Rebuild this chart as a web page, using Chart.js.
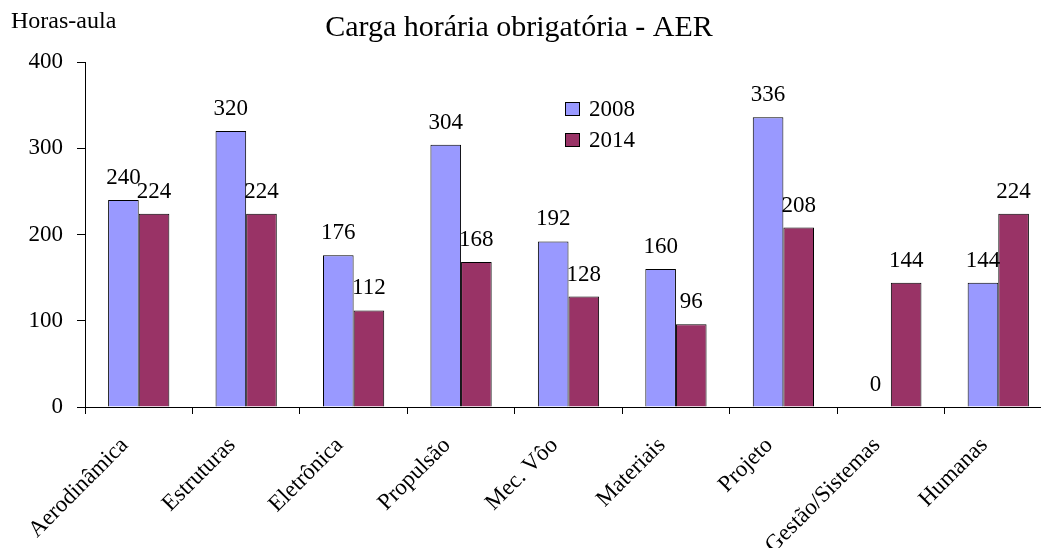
<!DOCTYPE html>
<html>
<head>
<meta charset="utf-8">
<script src="https://cdn.jsdelivr.net/npm/chart.js@4"></script>
<style>
  body { margin: 0; overflow: hidden; background: #fff; }
  #wrap { width: 1060px; height: 548px; }
</style>
</head>
<body>
<div id="wrap"><canvas id="chart" width="1060" height="548"></canvas></div>
<script>
// データ
const categories = ['Aerodinâmica', 'Estruturas', 'Eletrônica', 'Propulsão', 'Mec. Vôo', 'Materiais', 'Projeto', 'Gestão/Sistemas', 'Humanas'];
const series2008 = [240, 320, 176, 304, 192, 160, 336, 0, 144];
const series2014 = [224, 224, 112, 168, 128, 96, 208, 144, 224];
const seriesNames = ['2008', '2014'];
const yTicks = [0, 100, 200, 300, 400];
const chartTitle = 'Carga horária obrigatória - AER';
const yTitle = 'Horas-aula';

const FONT = '"Liberation Serif", "Times New Roman", serif';
const FSIZE = 23;

// 値ラベル・タイトル・凡例を描くプラグイン
const extrasPlugin = {
    id: 'extras',
    afterDatasetsDraw(chart) {
        const ctx = chart.ctx;
        ctx.save();
        ctx.font = FSIZE + 'px ' + FONT;
        ctx.fillStyle = '#000';
        ctx.textAlign = 'center';
        ctx.textBaseline = 'alphabetic';
        chart.data.datasets.forEach((ds, i) => {
            chart.getDatasetMeta(i).data.forEach((bar, j) => {
                ctx.fillText(String(ds.data[j]), bar.x, bar.y - 16);
            });
        });

        // タイトル
        ctx.font = '30px ' + FONT;
        ctx.fillText(chartTitle, 519, 36);
        ctx.textAlign = 'left';
        ctx.font = '24px ' + FONT;
        ctx.fillText(yTitle, 11, 28);

        // 凡例
        ctx.font = FSIZE + 'px ' + FONT;
        chart.data.datasets.forEach((ds, i) => {
            const y = 109 + i * 31;
            ctx.fillStyle = ds.backgroundColor;
            ctx.fillRect(565.5, y - 6.5, 14, 13);
            ctx.strokeStyle = '#000';
            ctx.lineWidth = 1;
            ctx.strokeRect(565.5, y - 6.5, 14, 13);
            ctx.fillStyle = '#000';
            ctx.textBaseline = 'middle';
            ctx.fillText(ds.label, 589, y + 1);
        });
        ctx.restore();
    }
};

const ctx = document.getElementById('chart').getContext('2d');
const myChart = new Chart(ctx, {
    type: 'bar',
    data: {
        labels: categories,
        datasets: [
            {
                label: seriesNames[0],
                data: series2008,
                backgroundColor: '#9999FF',
                borderColor: '#000',
                borderWidth: 1
            },
            {
                label: seriesNames[1],
                data: series2014,
                backgroundColor: '#993366',
                borderColor: '#000',
                borderWidth: 1
            }
        ]
    },
    options: {
        responsive: false,
        animation: false,
        categoryPercentage: 0.57,
        barPercentage: 1.0,
        layout: { padding: { left: 0, top: 62, right: 8, bottom: 0 } },
        plugins: {
            legend: { display: false },
            tooltip: { enabled: false },
            title: { display: false }
        },
        scales: {
            x: {
                grid: { offset: true, drawOnChartArea: false, drawTicks: true, tickLength: 7, tickColor: '#000' },
                border: { color: '#000', width: 1 },
                ticks: {
                    color: '#000',
                    font: { family: FONT, size: FSIZE },
                    minRotation: 45,
                    maxRotation: 45,
                    autoSkip: false,
                    padding: 18,
                    labelOffset: -14
                },
                afterFit(scale) { scale.height = 141; }
            },
            y: {
                min: 0,
                max: 400,
                grid: { drawOnChartArea: false, drawTicks: true, tickLength: 8, tickColor: '#000' },
                border: { color: '#000', width: 1 },
                afterBuildTicks(scale) { scale.ticks = yTicks.map(v => ({ value: v })); },
                ticks: {
                    color: '#000',
                    padding: 14,
                    font: { family: FONT, size: FSIZE }
                },
                afterFit(scale) { scale.width = 85; }
            }
        }
    },
    plugins: [extrasPlugin]
});
</script>
</body>
</html>
